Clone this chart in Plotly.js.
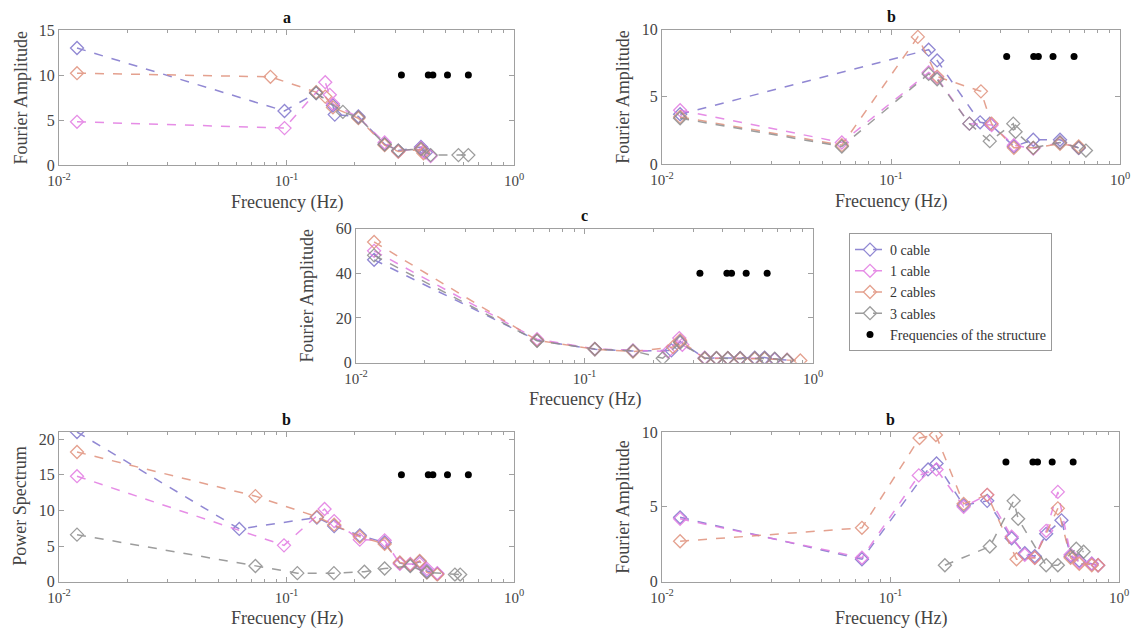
<!DOCTYPE html>
<html>
<head>
<meta charset="utf-8">
<script src="https://cdn.plot.ly/plotly-3.0.1.min.js"></script>
<style>html,body{margin:0;padding:0;background:#fff;}#chart{width:1141px;height:636px;}</style>
</head>
<body>
<div id="chart"></div>
<script>
// ---------- DATA (frequency Hz, amplitude) ----------
const seriesNames = ["0 cable", "1 cable", "2 cables", "3 cables"];
const structureName = "Frequencies of the structure";
const structureFreq = [0.32, 0.42, 0.44, 0.51, 0.63];

// panel a (Fourier Amplitude)
const a_cable0 = [[0.012,13.0],[0.098,6.0],[0.135,8.0],[0.16,6.6],[0.163,5.6],[0.207,5.4],[0.27,2.3],[0.31,1.6],[0.39,2.0],[0.41,1.4]];
const a_cable1 = [[0.012,4.8],[0.098,4.1],[0.148,9.2],[0.155,7.8],[0.16,6.8],[0.207,5.3],[0.27,2.5],[0.31,1.5],[0.39,1.9],[0.40,1.5],[0.43,1.0]];
const a_cable2 = [[0.012,10.2],[0.085,9.8],[0.135,8.1],[0.148,7.6],[0.16,6.4],[0.207,5.2],[0.27,2.2],[0.31,1.5],[0.39,1.7],[0.40,1.3]];
const a_cable3 = [[0.135,8.0],[0.177,5.9],[0.207,5.3],[0.27,2.3],[0.31,1.6],[0.39,1.8],[0.43,1.1],[0.57,1.1],[0.63,1.1]];
const a_structLevel = 10;

// panel b, top right (Fourier Amplitude)
const b_cable0 = [[0.012,3.7],[0.146,8.5],[0.159,7.7],[0.245,3.1],[0.27,3.0],[0.344,1.3],[0.418,1.8],[0.547,1.8],[0.66,1.2]];
const b_cable1 = [[0.012,4.0],[0.061,1.6],[0.146,6.8],[0.159,6.4],[0.22,3.0],[0.275,2.9],[0.344,1.4],[0.418,1.15],[0.547,1.6],[0.66,1.2]];
const b_cable2 = [[0.012,3.5],[0.061,1.4],[0.131,9.45],[0.159,6.5],[0.247,5.4],[0.275,3.0],[0.344,1.2],[0.418,1.2],[0.547,1.5],[0.66,1.3]];
const b_cable3 = [[0.012,3.4],[0.061,1.3],[0.146,6.7],[0.159,6.3],[0.22,3.0],[0.27,1.7],[0.342,3.0],[0.35,2.4],[0.418,1.2],[0.547,1.6],[0.66,1.2],[0.71,1.0]];
const b_structLevel = 8;

// panel c (Fourier Amplitude)
const c_cable0 = [[0.012,46],[0.062,10],[0.111,6],[0.163,5.2],[0.24,5.5],[0.262,9.5],[0.336,2],[0.378,2],[0.424,2],[0.48,2],[0.556,2.2],[0.614,2.3],[0.68,1.5],[0.77,1.2]];
const c_cable1 = [[0.012,50],[0.062,10.5],[0.111,6.2],[0.163,5.5],[0.232,5],[0.26,11],[0.268,8],[0.336,2.2],[0.378,2],[0.424,2],[0.48,2],[0.556,2],[0.614,2],[0.68,1.6],[0.77,1.2]];
const c_cable2 = [[0.012,54],[0.062,10],[0.111,6],[0.163,5],[0.244,7],[0.262,10],[0.336,1.8],[0.378,2],[0.424,2],[0.48,1.8],[0.556,1.8],[0.614,1.8],[0.77,1.2],[0.88,1.0]];
const c_cable3 = [[0.012,48],[0.062,9.8],[0.111,6.1],[0.163,5.3],[0.22,2.0],[0.262,9],[0.336,2],[0.378,2],[0.424,2],[0.48,2],[0.556,2],[0.614,2],[0.68,1.8],[0.77,1.1]];
const c_structLevel = 40;

// panel d, bottom left (Power Spectrum)
const d_cable0 = [[0.012,21.0],[0.062,7.4],[0.136,9.0],[0.162,7.8],[0.21,6.5],[0.27,5.5],[0.315,2.6],[0.35,2.3],[0.385,2.8],[0.414,1.5],[0.46,1.1]];
const d_cable1 = [[0.012,14.8],[0.0975,5.1],[0.147,10.2],[0.162,8.5],[0.21,5.9],[0.27,5.8],[0.315,2.5],[0.35,2.5],[0.385,2.5],[0.414,1.8],[0.46,1.2]];
const d_cable2 = [[0.012,18.2],[0.073,12.0],[0.136,9.1],[0.162,8.0],[0.21,6.3],[0.27,5.3],[0.315,2.7],[0.35,2.4],[0.385,2.9],[0.414,1.3],[0.46,1.0]];
const d_cable3 = [[0.012,6.6],[0.073,2.2],[0.1116,1.2],[0.1616,1.2],[0.22,1.4],[0.27,1.85],[0.35,2.2],[0.414,1.3],[0.55,1.0],[0.58,1.0]];
const d_structLevel = 15;

// panel e, bottom right (Fourier Amplitude)
const e_cable0 = [[0.012,4.3],[0.075,1.5],[0.146,7.5],[0.159,7.9],[0.209,5.1],[0.265,5.4],[0.339,2.9],[0.387,1.9],[0.428,1.7],[0.48,3.2],[0.56,4.1],[0.614,1.7],[0.67,1.4],[0.76,1.2],[0.81,1.1]];
const e_cable1 = [[0.012,4.2],[0.075,1.6],[0.133,7.1],[0.159,7.5],[0.209,5.0],[0.265,5.8],[0.339,3.0],[0.387,1.8],[0.428,1.6],[0.48,3.4],[0.54,6.0],[0.614,1.8],[0.67,1.3],[0.76,1.2],[0.81,1.1]];
const e_cable2 = [[0.012,2.7],[0.075,3.6],[0.134,9.6],[0.158,9.8],[0.209,5.2],[0.265,5.8],[0.356,1.5],[0.428,1.6],[0.54,4.9],[0.614,1.6],[0.67,1.2],[0.76,1.1],[0.81,1.1]];
const e_cable3 = [[0.173,1.1],[0.272,2.35],[0.346,5.4],[0.362,4.2],[0.48,1.1],[0.54,1.1],[0.65,2.2],[0.70,2.0]];
const e_structLevel = 8;

const panelTitles = ["a", "b", "c", "b", "b"];
const yTitles = ["Fourier Amplitude", "Fourier Amplitude", "Fourier Amplitude", "Power Spectrum", "Fourier Amplitude"];
const xTitle = "Frecuency (Hz)";

// ---------- STYLE / LAYOUT ----------
const W = 1141, H = 636;
const colors = ["#7e74cc", "#e27ae2", "#e0917c", "#8c8c8c"];
const FONT = "Liberation Serif, Times New Roman, serif";
const AX = "#a0a0a0";

// pixel boxes [left, right, top, bottom] and y-title x positions
const boxes = [
  [59, 514, 30, 165],
  [662, 1120, 29.5, 164],
  [356, 813, 228.5, 362.7],
  [59, 514, 432, 581.7],
  [662, 1119, 432, 581.7]
];
const yTitleX = [20, 623, 307, 20, 623];
const yRanges = [[0,15],[0,10],[0,60],[0,21],[0,10]];
const yTicks = [[0,5,10,15],[0,5,10],[0,20,40,60],[0,5,10,15,20],[0,5,10]];
const panels = [
  [a_cable0, a_cable1, a_cable2, a_cable3, a_structLevel],
  [b_cable0, b_cable1, b_cable2, b_cable3, b_structLevel],
  [c_cable0, c_cable1, c_cable2, c_cable3, c_structLevel],
  [d_cable0, d_cable1, d_cable2, d_cable3, d_structLevel],
  [e_cable0, e_cable1, e_cable2, e_cable3, e_structLevel]
];

const minorVals = [];
[0.01, 0.1].forEach(function(dec){ for (let k = 2; k <= 9; k++) minorVals.push(dec * k); });

const traces = [];
const layout = {
  width: W, height: H,
  margin: {l:0, r:0, t:0, b:0},
  paper_bgcolor: "#fff", plot_bgcolor: "#fff",
  font: {family: FONT, size: 15, color: "#333"},
  showlegend: true,
  legend: {
    x: 849/W, y: 1 - 233/H, xanchor: "left", yanchor: "top",
    bordercolor: "#999", borderwidth: 1, bgcolor: "#fff",
    font: {family: FONT, size: 14, color: "#333"},
    tracegroupgap: 0, itemwidth: 30
  },
  annotations: []
};

panels.forEach(function(p, i){
  const n = i + 1;
  const xa = "x" + (n === 1 ? "" : n), ya = "y" + (n === 1 ? "" : n);
  const b = boxes[i];
  for (let s = 0; s < 4; s++) {
    traces.push({
      type: "scatter", mode: "lines+markers",
      x: p[s].map(function(d){ return d[0]; }),
      y: p[s].map(function(d){ return d[1]; }),
      name: seriesNames[s], legendgroup: seriesNames[s],
      showlegend: i === 2,
      xaxis: xa, yaxis: ya,
      opacity: 0.85,
      line: {color: colors[s], width: 1.5, dash: "dash"},
      marker: {symbol: "diamond-open", size: 10, color: colors[s], line: {width: 1.3, color: colors[s]}}
    });
  }
  traces.push({
    type: "scatter", mode: "markers",
    x: structureFreq, y: structureFreq.map(function(){ return p[4]; }),
    name: structureName, legendgroup: "struct", showlegend: i === 2,
    xaxis: xa, yaxis: ya,
    marker: {symbol: "circle", size: 7, color: "#000"}
  });
  const xkey = "xaxis" + (n === 1 ? "" : n), ykey = "yaxis" + (n === 1 ? "" : n);
  layout[xkey] = {
    type: "log", range: [-2, 0], domain: [b[0]/W, b[1]/W], anchor: ya,
    tickmode: "array", tickvals: [0.01, 0.1, 1],
    ticktext: ["10<sup>-2</sup>", "10<sup>-1</sup>", "10<sup>0</sup>"],
    ticks: "inside", ticklen: 5, tickcolor: AX, showline: true, linecolor: AX, linewidth: 1,
    mirror: "ticks", showgrid: false, zeroline: false,
    minor: {tickmode: "array", tickvals: minorVals, ticks: "inside", ticklen: 3, tickcolor: AX, showgrid: false},
    tickfont: {family: FONT, size: 15, color: "#444"},
    ticklabelstandoff: 2
  };
  layout[ykey] = {
    range: yRanges[i], domain: [1 - b[3]/H, 1 - b[2]/H], anchor: xa,
    tickmode: "array", tickvals: yTicks[i],
    ticks: "inside", ticklen: 5, tickcolor: AX, showline: true, linecolor: AX, linewidth: 1,
    mirror: "ticks", showgrid: false, zeroline: false,
    tickfont: {family: FONT, size: 16, color: "#444"}
  };
  const cx = (b[0] + b[1]) / 2;
  layout.annotations.push({
    xref: "paper", yref: "paper", x: cx/W, y: 1 - (b[2] - 13)/H, xanchor: "center", yanchor: "middle",
    text: "<b>" + panelTitles[i] + "</b>", showarrow: false, font: {family: FONT, size: 16, color: "#111"}
  });
  layout.annotations.push({
    xref: "paper", yref: "paper", x: cx/W, y: 1 - (b[3] + 37)/H, xanchor: "center", yanchor: "middle",
    text: xTitle, showarrow: false, font: {family: FONT, size: 18, color: "#444"}
  });
  layout.annotations.push({
    xref: "paper", yref: "paper", x: yTitleX[i]/W, y: 1 - ((b[2] + b[3]) / 2)/H, xanchor: "center", yanchor: "middle",
    text: yTitles[i], textangle: -90, showarrow: false, font: {family: FONT, size: 18, color: "#444"}
  });
});

Plotly.newPlot("chart", traces, layout, {displayModeBar: false, staticPlot: true});
</script>
</body>
</html>
